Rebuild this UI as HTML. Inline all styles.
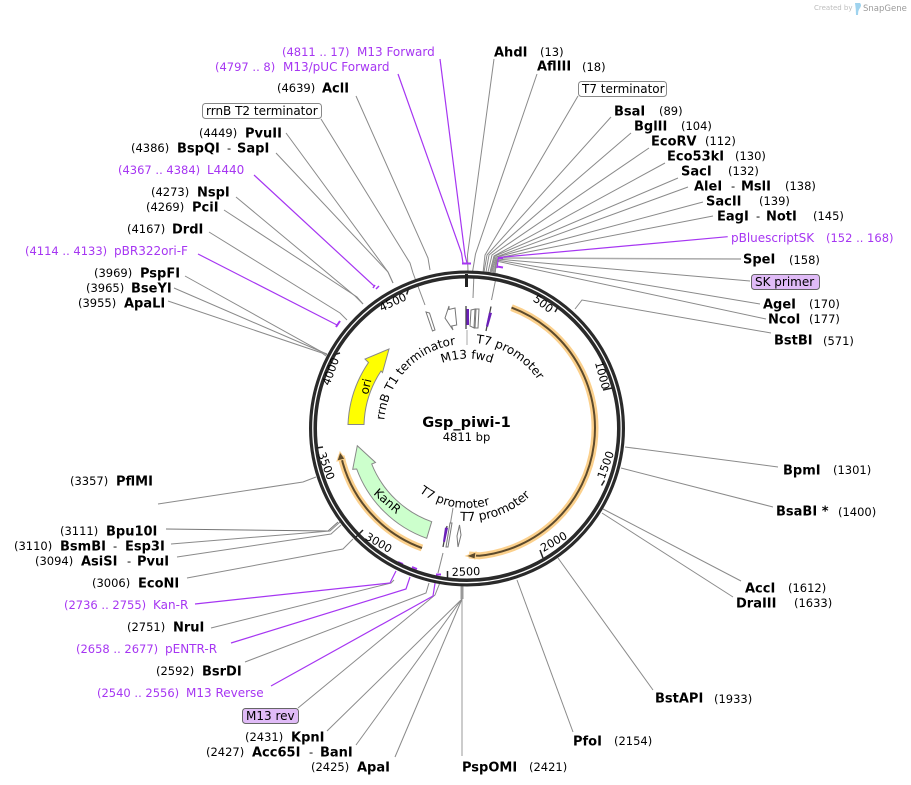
<!DOCTYPE html>
<html><head><meta charset="utf-8"><style>
html,body{margin:0;padding:0;background:#fff}
svg{display:block}
text{font-family:"DejaVu Sans",sans-serif;fill:#000}
.e{font-size:13px;font-weight:bold}
.c{font-size:11.5px}
.p{font-size:12px;fill:#a636f2}
.pc{font-size:11.5px;fill:#a636f2}
.f{font-size:12px}
.t{font-size:11.2px;text-anchor:middle;dominant-baseline:central}
.g path,.g polyline{fill:none;stroke:#8a8a8a;stroke-width:1}
.v polyline,.v path{fill:none;stroke:#a636f2;stroke-width:1.2}
</style></head><body>
<svg width="911" height="785" viewBox="0 0 911 785" xmlns="http://www.w3.org/2000/svg">
<defs>
<path id="a1" d="M384.3 420A83 83 0 0 1 481 345"/>
<path id="a2b" d="M405 394A72 72 0 0 1 529 394"/>
<path id="a3" d="M476 343A86 86 0 0 1 553 429"/>
<path id="a4" d="M405 478A79 79 0 0 0 529 478"/>
<path id="a5" d="M460 520.7A92 92 0 0 0 547 383"/>
</defs>

<!-- attribution -->
<text x="814" y="10" style="font-size:7px;fill:#bdbdbd">Created by</text>
<path d="M855 3h5q2 2 0 5q-2 2-2 7h-2q0-6-1-12z" fill="#9fd3ee"/>
<text x="863" y="11" style="font-size:8.5px;fill:#9a9a9a">SnapGene</text>

<!-- gray leaders -->
<g class="g">
<polyline points="494,59 467.5,255 468,272"/>
<polyline points="537,74 475.5,254 472.5,272"/>
<polyline points="578,96 485,255 483,273"/>
<polyline points="611,117 487,255 484,272"/>
<polyline points="631,133 489,255 486,272"/>
<polyline points="649,148 492,255 488,272"/>
<polyline points="665,163 494,256 490,272"/>
<polyline points="678,178 495,256 491,272"/>
<polyline points="688,187 496,257 492,272"/>
<polyline points="703,202 497,257 493,273"/>
<polyline points="713,216 497,258 494,273"/>
<polyline points="741,259 497,258 494,273" style="stroke-width:1.5;stroke:#aaa"/>
<polyline points="750,281 497,259 495,273"/>
<polyline points="760,304 497,260 495,273"/>
<polyline points="766,319 496,261 495,274"/>
<polyline points="771,333 582,300 575,309"/>
<polyline points="778,467 625,447"/>
<polyline points="773,507 621,468"/>
<polyline points="741,581 603,509"/>
<polyline points="733,597 602,513"/>
<polyline points="653,690 558,558"/>
<polyline points="573,732 517,580"/>
<polyline points="462,756 462,586" style="stroke:#999"/>
<polyline points="462,586 462,599" style="stroke:#999;stroke-width:3"/>
<polyline points="395,757 462,599"/>
<polyline points="356,745 462,599"/>
<polyline points="327,731 462,599"/>
<polyline points="298,708 435,595 441,580"/>
<polyline points="245,662 426,593 429,583"/>
<polyline points="211,628 391,583 394,580"/>
<polyline points="187,578 343,549 353,539"/>
<polyline points="177,557 331,534 341,525"/>
<polyline points="166,529 328,531 338,522" style="stroke:#777"/>
<polyline points="171,544 330,531 340,522"/>
<polyline points="158,504 303,482 316,477"/>
<polyline points="168,301 322,353 326,356"/>
<polyline points="174,288 322,352 327,355"/>
<polyline points="185,276 322,352 327,354"/>
<polyline points="209,232 340,313 347,320"/>
<polyline points="224,210 357,297 363,304"/>
<polyline points="236,197 355,296 363,304"/>
<polyline points="276,153 388,272 393,283"/>
<polyline points="286,133 388,272 393,283"/>
<polyline points="321,119 410,263 413,273 425,305"/>
<polyline points="356,96 428,258 430,270"/>
<!-- inner leaders -->
<polyline points="497,273 491.5,300"/>
<polyline points="474,273 473,298"/>
<polyline points="467,330 467,345" style="stroke:#aaa"/>
<polyline points="453,508 450.5,523"/>
<polyline points="443,553 438,573"/>
</g>

<!-- purple leaders -->
<g class="v">
<polyline points="440,59 465,255 467,263"/>
<polyline points="398,74 461.5,253 463,263"/>
<path d="M462 263.5H471" style="stroke-width:2"/>
<polyline points="727.7,236.7 498.5,257.5 497,268"/>
<path d="M498 258H503M497 266.5L503 267.5" style="stroke-width:2"/>
<polyline points="254,175 373,285 375,286"/>
<path d="M376 289L379 286M375 285L373 288" style="stroke-width:1.5"/>
<polyline points="198,254 337,325"/>
<path d="M336 327L340 321" style="stroke-width:2"/>
<polyline points="195,604 390,583 396,571"/>
<path d="M398 562L403 564" style="stroke-width:2"/>
<polyline points="231,643 406,589 410,577"/>
<path d="M412 567L417 569" style="stroke-width:2"/>
<polyline points="271,686 433,596 436,577"/>
<path d="M436 574.5H441" style="stroke-width:2"/>
</g>

<!-- ring -->
<circle cx="467" cy="428.5" r="154" fill="none" stroke="#2a2a2a" stroke-width="8"/>
<circle cx="467" cy="428.5" r="154.2" fill="none" stroke="#fff" stroke-width="1.3"/>

<!-- ticks -->
<path d="M466.5 274V287" stroke="#222" stroke-width="3" fill="none"/>
<g stroke="#222" stroke-width="1.5" fill="none">
<path d="M558.5 306L555 312"/><path d="M612 388L603 390"/><path d="M604.5 480.5L601.5 485.5"/>
<path d="M543 558L540 550"/><path d="M447.5 578.5L447.5 571"/><path d="M356 537L363 530"/>
<path d="M316.5 448L323 447"/><path d="M333 355L340 353"/><path d="M409 287L406.7 294.5"/>
</g>
<text class="t" transform="translate(543 304) rotate(37)">500</text>
<text class="t" transform="translate(602 375.5) rotate(75)">1000</text>
<text class="t" transform="translate(606 465) rotate(-70)">1500</text>
<text class="t" transform="translate(554 542) rotate(-30)">2000</text>
<text class="t" transform="translate(466 572) rotate(-2)">2500</text>
<text class="t" transform="translate(378.5 543) rotate(30)">3000</text>
<text class="t" transform="translate(326 466) rotate(70)">3500</text>
<text class="t" transform="translate(331 371.5) rotate(-70)">4000</text>
<text class="t" transform="translate(393 302.5) rotate(-25)">4500</text>

<!-- orange arcs -->
<path d="M511.5 307.6A128.5 128.5 0 0 1 479.5 555.8L469 555" fill="none" stroke="#fbd08c" stroke-width="7"/>
<path d="M511.5 307.6A128.5 128.5 0 0 1 479.5 555.8L472 555.5" fill="none" stroke="#5c4a2c" stroke-width="2"/>
<path d="M466 556L476 552L475 559Z" fill="#5c4a2c" stroke="#fbd08c" stroke-width="1"/>
<path d="M422 548A128 128 0 0 1 341 456" fill="none" stroke="#fbd08c" stroke-width="7"/>
<path d="M422 548A128 128 0 0 1 341 456" fill="none" stroke="#5c4a2c" stroke-width="2"/>
<path d="M340 452L337 461L345 459Z" fill="#5c4a2c" stroke="#fbd08c" stroke-width="1"/>

<!-- ori -->
<path d="M348 424.5A119 119 0 0 1 368.5 362.5L365 359L389 349L382.5 372.5L381 371A103 103 0 0 0 364 424.5Z" fill="#ffff00" stroke="#888" stroke-width="1"/>
<!-- KanR -->
<path d="M426.7 538.3A116 116 0 0 1 356.7 469L352.7 469.3L357.3 445.7L375.5 462.5L371.7 464A101 101 0 0 0 431.7 521.7Z" fill="#ccffcc" stroke="#888" stroke-width="1"/>

<!-- small features -->
<g stroke="#777" stroke-width="1" fill="#fff">
<path d="M426 312L429.5 313L435 330L432.5 331Z"/>
<path d="M445 318L449 306L449 309.5L455 308L456.7 325L451.7 326L453 330Z"/>
<path d="M471 310L475 309L474 328L470 326Z"/>
<path d="M476 309L479 309L478 328L475 328Z"/>
<path d="M450 523L452 523L448 547L446 547Z"/>
<path d="M459.5 525L461 535L458 547L457 536Z"/>
</g>
<path d="M466 306V329" stroke="#444" stroke-width="1.3"/>
<path d="M466.5 309H469V325H466.5Z" fill="#6a1fb8"/>
<path d="M491 306.5L486 331" stroke="#444" stroke-width="1.3"/>
<path d="M489 312.5L492 313L488 327L486 326Z" fill="#6a1fb8"/>
<path d="M447 526L443 547" stroke="#444" stroke-width="1.3"/>
<path d="M445 527.5L448 528L445 542L443 541.5Z" fill="#6a1fb8"/>

<!-- center -->
<text x="466.5" y="427" text-anchor="middle" style="font-size:14.6px;font-weight:bold">Gsp_piwi-1</text>
<text x="466.5" y="441" text-anchor="middle" style="font-size:11.5px">4811 bp</text>

<!-- curved feature labels -->
<text class="f"><textPath href="#a1">rrnB T1 terminator</textPath></text>
<text class="f"><textPath href="#a2b" startOffset="50%" text-anchor="middle">M13 fwd</textPath></text>
<text class="f"><textPath href="#a3">T7 promoter</textPath></text>
<text class="f"><textPath href="#a4" startOffset="20">T7 promoter</textPath></text>
<text class="f" style="font-size:12.4px"><textPath href="#a5">T7 promoter</textPath></text>
<text class="f" transform="translate(368 395) rotate(-77)">ori</text>
<text class="f" transform="translate(373 494) rotate(41)">KanR</text>

<!-- boxes -->
<rect x="202.5" y="103.5" width="119" height="15" rx="3" fill="#fff" stroke="#888"/>
<text class="f" x="206" y="115">rrnB T2 terminator</text>
<rect x="578.5" y="81.5" width="88" height="15" rx="3" fill="#fff" stroke="#888"/>
<text class="f" x="582" y="93">T7 terminator</text>
<rect x="751.5" y="274.5" width="68" height="15" rx="3" fill="#e0bbf7" stroke="#666"/>
<text class="f" x="755" y="286">SK primer</text>
<rect x="242.5" y="708.5" width="56" height="15" rx="3" fill="#e0bbf7" stroke="#666"/>
<text class="f" x="246" y="720">M13 rev</text>

<!-- left labels -->
<text class="pc" x="282" y="56">(4811 .. 17)</text><text class="p" x="357" y="56">M13 Forward</text>
<text class="pc" x="215" y="71">(4797 .. 8)</text><text class="p" x="283" y="71">M13/pUC Forward</text>
<text class="c" x="277" y="92">(4639)</text><text class="e" x="322" y="92.5">AclI</text>
<text class="c" x="199" y="137">(4449)</text><text class="e" x="245" y="137.5">PvuII</text>
<text class="c" x="131" y="152">(4386)</text><text class="e" x="177" y="152.5">BspQI</text><text class="c" x="227" y="152">-</text><text class="e" x="237" y="152.5">SapI</text>
<text class="pc" x="118" y="174">(4367 .. 4384)</text><text class="p" x="207" y="174">L4440</text>
<text class="c" x="151" y="196">(4273)</text><text class="e" x="197" y="196.5">NspI</text>
<text class="c" x="146" y="211">(4269)</text><text class="e" x="192" y="211.5">PciI</text>
<text class="c" x="127" y="233">(4167)</text><text class="e" x="172" y="233.5">DrdI</text>
<text class="pc" x="25" y="255">(4114 .. 4133)</text><text class="p" x="114" y="255">pBR322ori-F</text>
<text class="c" x="94" y="277">(3969)</text><text class="e" x="140" y="277.5">PspFI</text>
<text class="c" x="86" y="292">(3965)</text><text class="e" x="131" y="292.5">BseYI</text>
<text class="c" x="78" y="307">(3955)</text><text class="e" x="124" y="307.5">ApaLI</text>
<text class="c" x="70" y="485">(3357)</text><text class="e" x="116" y="485.5">PflMI</text>
<text class="c" x="60" y="535">(3111)</text><text class="e" x="106" y="535.5">Bpu10I</text>
<text class="c" x="14" y="550">(3110)</text><text class="e" x="60" y="550.5">BsmBI</text><text class="c" x="113" y="550">-</text><text class="e" x="125" y="550.5">Esp3I</text>
<text class="c" x="35" y="565">(3094)</text><text class="e" x="81" y="565.5">AsiSI</text><text class="c" x="127" y="565">-</text><text class="e" x="137" y="565.5">PvuI</text>
<text class="c" x="92" y="587">(3006)</text><text class="e" x="138" y="587.5">EcoNI</text>
<text class="pc" x="64" y="609">(2736 .. 2755)</text><text class="p" x="153" y="609">Kan-R</text>
<text class="c" x="127" y="631">(2751)</text><text class="e" x="173" y="631.5">NruI</text>
<text class="pc" x="76" y="653">(2658 .. 2677)</text><text class="p" x="165" y="653">pENTR-R</text>
<text class="c" x="156" y="675">(2592)</text><text class="e" x="202" y="675.5">BsrDI</text>
<text class="pc" x="97" y="697">(2540 .. 2556)</text><text class="p" x="186" y="697">M13 Reverse</text>
<text class="c" x="245" y="741">(2431)</text><text class="e" x="291" y="741.5">KpnI</text>
<text class="c" x="206" y="756">(2427)</text><text class="e" x="252" y="756.5">Acc65I</text><text class="c" x="309" y="756">-</text><text class="e" x="320" y="756.5">BanI</text>
<text class="c" x="311" y="771">(2425)</text><text class="e" x="357" y="771.5">ApaI</text>

<!-- right labels -->
<text class="e" x="462" y="771.5">PspOMI</text><text class="c" x="529" y="771">(2421)</text>
<text class="e" x="573" y="745.5">PfoI</text><text class="c" x="614" y="745">(2154)</text>
<text class="e" x="655" y="702.5">BstAPI</text><text class="c" x="714" y="703">(1933)</text>
<text class="e" x="745" y="592.5">AccI</text><text class="c" x="788" y="592">(1612)</text>
<text class="e" x="736" y="607.5">DraIII</text><text class="c" x="794" y="607">(1633)</text>
<text class="e" x="776" y="515.5">BsaBI *</text><text class="c" x="838" y="516">(1400)</text>
<text class="e" x="783" y="474.5">BpmI</text><text class="c" x="833" y="474">(1301)</text>
<text class="e" x="774" y="344.5">BstBI</text><text class="c" x="823" y="345">(571)</text>
<text class="e" x="768" y="323.5">NcoI</text><text class="c" x="809" y="323">(177)</text>
<text class="e" x="763" y="308.5">AgeI</text><text class="c" x="809" y="308">(170)</text>
<text class="e" x="743" y="263.5">SpeI</text><text class="c" x="789" y="264">(158)</text>
<text class="p" x="731" y="242">pBluescriptSK</text><text class="pc" x="826" y="242">(152 .. 168)</text>
<text class="e" x="717" y="220.5">EagI</text><text class="c" x="756" y="220">-</text><text class="e" x="766" y="220.5">NotI</text><text class="c" x="813" y="220">(145)</text>
<text class="e" x="706" y="205.5">SacII</text><text class="c" x="759" y="205">(139)</text>
<text class="e" x="694" y="190.5">AleI</text><text class="c" x="731" y="190">-</text><text class="e" x="741" y="190.5">MslI</text><text class="c" x="785" y="190">(138)</text>
<text class="e" x="681" y="175.5">SacI</text><text class="c" x="728" y="175">(132)</text>
<text class="e" x="667" y="160.5">Eco53kI</text><text class="c" x="735" y="160">(130)</text>
<text class="e" x="651" y="145.5">EcoRV</text><text class="c" x="705" y="145">(112)</text>
<text class="e" x="634" y="130.5">BglII</text><text class="c" x="681" y="130">(104)</text>
<text class="e" x="614" y="115.5">BsaI</text><text class="c" x="659" y="115">(89)</text>
<text class="e" x="537" y="70.5">AflIII</text><text class="c" x="582" y="71">(18)</text>
<text class="e" x="494" y="56.5">AhdI</text><text class="c" x="540" y="56">(13)</text>
</svg>
</body></html>
